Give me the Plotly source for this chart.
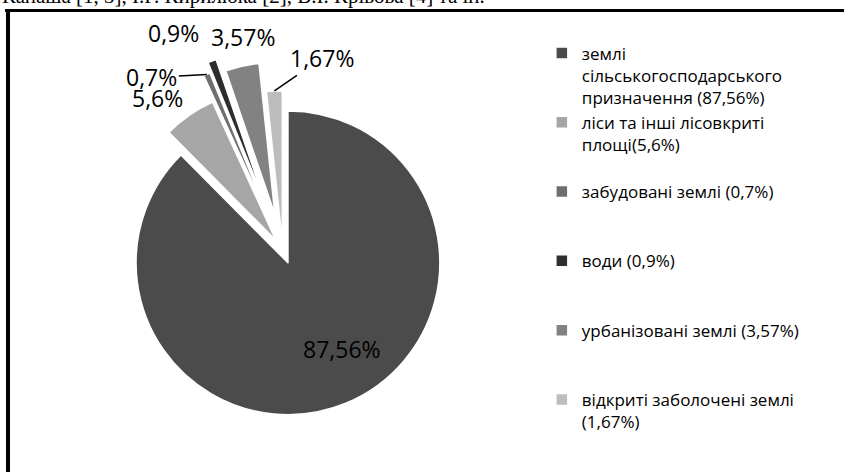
import math
import plotly.graph_objects as go

# ---- data ----
categories = [
    "землі<br>сільськогосподарського<br>призначення (87,56%)",
    "ліси та інші лісовкриті<br>площі(5,6%)",
    "забудовані землі (0,7%)",
    "води (0,9%)",
    "урбанізовані землі (3,57%)",
    "відкриті заболочені землі<br>(1,67%)",
]
values = [87.56, 5.6, 0.7, 0.9, 3.57, 1.67]
header_text = "Капаша [1, 3], І.Г. Кирилюка [2], В.І. Крівова [4] та ін."

# ---- style ----
colors = ["#4b4b4b", "#a6a6a6", "#6f6f6f", "#2e2e2e", "#828282", "#bdbdbd"]
pulls = [0.09, 0.08, 0.26, 0.33, 0.24, 0.05]
# label offset (px) from each slice's outer mid point, and whether a leader line is drawn
label_dx = [-4, -32, -55, -39, 1, 48]
label_dy = [-54, -17, 3, -28, -29, -33]
leader = [False, False, True, False, False, True]

W, H = 844, 472
dom_x = [0.0, 0.67]
dom_y = [0.042, 0.898]
FONT = "Open Sans"

# legend labels padded to three lines so items are evenly spaced
def pad(lbl, n=3):
    k = lbl.count("<br>") + 1
    return lbl + "<br> " * max(0, n - k)

legend_labels = [pad(c) if i < 5 else c for i, c in enumerate(categories)]
slice_text = [f"{v}".replace(".", ",") + "%" for v in values]

fig = go.Figure(
    go.Pie(
        labels=legend_labels,
        values=values,
        text=slice_text,
        textinfo="none",
        sort=False,
        direction="clockwise",
        rotation=0,
        pull=pulls,
        marker=dict(colors=colors, line=dict(color="white", width=1.5)),
        domain=dict(x=dom_x, y=dom_y),
        hovertemplate="%{text}<extra></extra>",
    )
)

# geometry of the pie (same rule plotly uses) to anchor labels on the slices
pw = W * (dom_x[1] - dom_x[0])
ph = H * (dom_y[1] - dom_y[0])
cx = W * (dom_x[0] + dom_x[1]) / 2
cy = H * (1 - (dom_y[0] + dom_y[1]) / 2)
r = min(pw, ph) / (2 * (1 + max(pulls)))
total = sum(values)

annotations = []
cum = 0.0
for v, p, t, dx, dy, ld in zip(values, pulls, slice_text, label_dx, label_dy, leader):
    a0 = cum / total * 360
    cum += v
    a1 = cum / total * 360
    am = math.radians((a0 + a1) / 2)
    R = r * (1 + p)
    tx = cx + R * math.sin(am)
    ty = cy - R * math.cos(am)
    ann = dict(
        text=t,
        xref="paper",
        yref="paper",
        x=tx / W,
        y=1 - ty / H,
        xanchor="center",
        yanchor="middle",
        font=dict(family=FONT, size=23, color="black"),
    )
    if ld:
        ann.update(showarrow=True, arrowhead=0, arrowwidth=1.5, arrowcolor="black",
                   ax=dx, ay=dy, standoff=0)
    else:
        ann.update(showarrow=False, xshift=dx, yshift=-dy)
    annotations.append(ann)

annotations.append(
    dict(
        text=header_text,
        xref="paper",
        yref="paper",
        x=0.0,
        y=1 - 10.5 / H,
        xanchor="left",
        yanchor="bottom",
        showarrow=False,
        font=dict(family="Liberation Serif", size=21, color="black"),
    )
)

fig.update_layout(
    width=W,
    height=H,
    margin=dict(l=0, r=0, t=0, b=0, autoexpand=False),
    paper_bgcolor="white",
    plot_bgcolor="white",
    showlegend=True,
    legend=dict(
        x=0.642,
        y=0.925,
        xanchor="left",
        yanchor="top",
        valign="top",
        font=dict(family=FONT, size=17, color="black"),
        bgcolor="rgba(0,0,0,0)",
    ),
    annotations=annotations,
    shapes=[
        dict(type="line", xref="paper", yref="paper", x0=0.006, x1=1.0, y0=1 - 10.5 / H, y1=1 - 10.5 / H,
             line=dict(color="black", width=3)),
        dict(type="line", xref="paper", yref="paper", x0=8 / W, x1=8 / W, y0=0.0, y1=1 - 9 / H,
             line=dict(color="black", width=4)),
    ],
)

fig.write_html("out.html")
